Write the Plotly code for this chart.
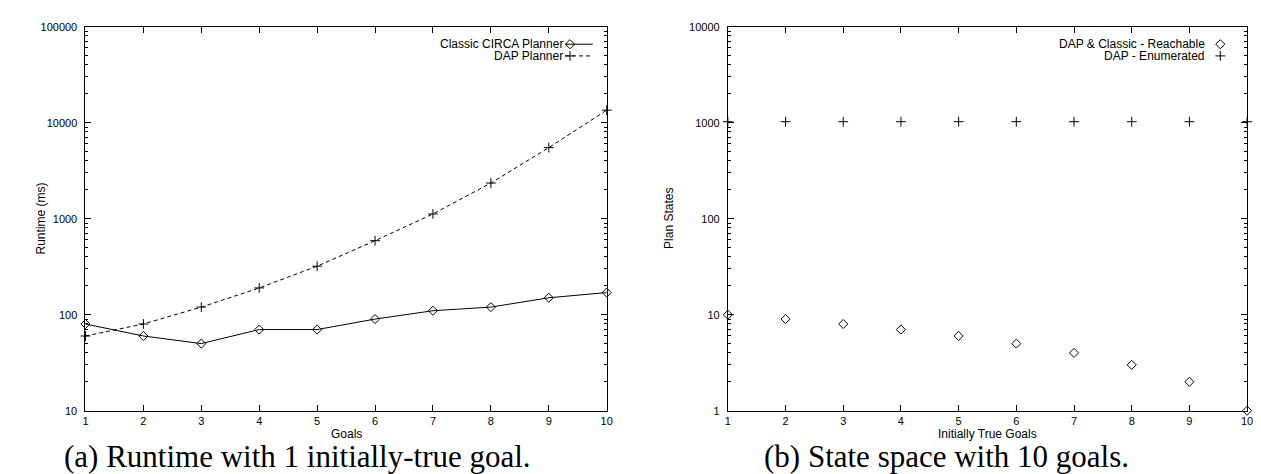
import plotly.graph_objects as go

# ---------------- data ----------------
goals = [1, 2, 3, 4, 5, 6, 7, 8, 9, 10]
classic_runtime = [80, 60, 50, 70, 70, 90, 110, 120, 150, 170]
dap_runtime = [60, 80, 120, 190, 320, 590, 1120, 2350, 5500, 13500]

true_goals = [1, 2, 3, 4, 5, 6, 7, 8, 9, 10]
reachable_states = [10, 9, 8, 7, 6, 5, 4, 3, 2, 1]
enumerated_states = [1024, 1024, 1024, 1024, 1024, 1024, 1024, 1024, 1024, 1024]

left_ytick_vals = [10, 100, 1000, 10000, 100000]
left_ytick_text = ["10", "100", "1000", "10000", "100000"]
right_ytick_vals = [1, 10, 100, 1000, 10000]
right_ytick_text = ["1", "10", "100", "1000", "10000"]
xtick_vals = [1, 2, 3, 4, 5, 6, 7, 8, 9, 10]

# ---------------- layout geometry ----------------
W, H = 1261, 474
def px(x):
    return x / W
def py(y):
    return (H - y) / H

L0, L1 = 75, 600
R0, R1 = 722, 1245
T, B = 13, 407

SANS = "Liberation Sans, Arial, Helvetica, sans-serif"
SERIF = "Liberation Serif, Times New Roman, serif"

fig = go.Figure()

# Left panel
fig.add_trace(go.Scatter(x=goals, y=classic_runtime, mode="lines+markers",
                         line=dict(color="black", width=1),
                         marker=dict(symbol="diamond-open", size=7, color="black", line=dict(width=1)),
                         cliponaxis=False, xaxis="x", yaxis="y", showlegend=False))
fig.add_trace(go.Scatter(x=goals, y=dap_runtime, mode="lines+markers",
                         line=dict(color="black", width=1, dash="4px,3px"),
                         marker=dict(symbol="cross-thin-open", size=7, color="black", line=dict(width=1, color="black")),
                         cliponaxis=False, xaxis="x", yaxis="y", showlegend=False))

# Right panel
fig.add_trace(go.Scatter(x=true_goals, y=reachable_states, mode="markers",
                         marker=dict(symbol="diamond-open", size=7, color="black", line=dict(width=1)),
                         cliponaxis=False, xaxis="x2", yaxis="y2", showlegend=False))
fig.add_trace(go.Scatter(x=true_goals, y=enumerated_states, mode="markers",
                         marker=dict(symbol="cross-thin-open", size=7, color="black", line=dict(width=1, color="black")),
                         cliponaxis=False, xaxis="x2", yaxis="y2", showlegend=False))

# Legend key samples on hidden helper axes (0..1 over each panel)
def ax_x(p, a0, a1):
    return (p - a0) / (a1 - a0)
def ax_y(p):
    return 1 - (p - T) / (B - T)

row1, row2 = 31, 43
# left keys
fig.add_trace(go.Scatter(x=[ax_x(558, L0, L1), ax_x(586, L0, L1)], y=[ax_y(row1)] * 2, mode="lines",
                         line=dict(color="black", width=1), xaxis="x3", yaxis="y3", showlegend=False, hoverinfo="skip"))
fig.add_trace(go.Scatter(x=[ax_x(563, L0, L1)], y=[ax_y(row1)], mode="markers",
                         marker=dict(symbol="diamond-open", size=7, color="black", line=dict(width=1)),
                         cliponaxis=False, xaxis="x3", yaxis="y3", showlegend=False, hoverinfo="skip"))
fig.add_trace(go.Scatter(x=[ax_x(558, L0, L1), ax_x(586, L0, L1)], y=[ax_y(row2)] * 2, mode="lines",
                         line=dict(color="black", width=1, dash="4px,3px"), xaxis="x3", yaxis="y3", showlegend=False, hoverinfo="skip"))
fig.add_trace(go.Scatter(x=[ax_x(563, L0, L1)], y=[ax_y(row2)], mode="markers",
                         marker=dict(symbol="cross-thin-open", size=7, color="black", line=dict(width=1, color="black")),
                         cliponaxis=False, xaxis="x3", yaxis="y3", showlegend=False, hoverinfo="skip"))
# right keys
fig.add_trace(go.Scatter(x=[ax_x(1218, R0, R1)], y=[ax_y(row1)], mode="markers",
                         marker=dict(symbol="diamond-open", size=7, color="black", line=dict(width=1)),
                         cliponaxis=False, xaxis="x4", yaxis="y4", showlegend=False, hoverinfo="skip"))
fig.add_trace(go.Scatter(x=[ax_x(1218, R0, R1)], y=[ax_y(row2)], mode="markers",
                         marker=dict(symbol="cross-thin-open", size=7, color="black", line=dict(width=1, color="black")),
                         cliponaxis=False, xaxis="x4", yaxis="y4", showlegend=False, hoverinfo="skip"))

minor_log = [m * 10 ** e for e in range(-1, 6) for m in range(2, 10)]

def xax(domain, anchor):
    return dict(domain=domain, anchor=anchor, range=[1, 10], tickmode="array", tickvals=xtick_vals,
                ticktext=[str(v) for v in xtick_vals], ticks="inside", ticklen=6, tickcolor="black",
                tickwidth=1, showline=True, linecolor="black", linewidth=1, mirror="allticks",
                showgrid=False, zeroline=False, ticklabelstandoff=0,
                tickfont=dict(family=SANS, size=11, color="black"))

def yax(domain, anchor, rng, vals, text):
    return dict(domain=domain, anchor=anchor, type="log", range=rng, tickmode="array", tickvals=vals,
                ticktext=text, ticks="inside", ticklen=6, tickcolor="black", tickwidth=1,
                showline=True, linecolor="black", linewidth=1, mirror="allticks",
                showgrid=False, zeroline=False, ticklabelstandoff=5,
                tickfont=dict(family=SANS, size=11, color="black"),
                minor=dict(tickmode="array", tickvals=minor_log, ticks="inside", ticklen=3,
                           tickcolor="black", tickwidth=1, showgrid=False))

ydom = [py(B), py(T)]
hidden = dict(visible=False, range=[0, 1], showgrid=False, zeroline=False, fixedrange=True)

fig.update_layout(
    width=W, height=H,
    margin=dict(l=0, r=0, t=0, b=0),
    paper_bgcolor="white", plot_bgcolor="rgba(0,0,0,0)",
    showlegend=False,
    xaxis=xax([px(L0), px(L1)], "y"),
    yaxis=yax(ydom, "x", [1, 5], left_ytick_vals, left_ytick_text),
    xaxis2=xax([px(R0), px(R1)], "y2"),
    yaxis2=yax(ydom, "x2", [0, 4], right_ytick_vals, right_ytick_text),
    xaxis3=dict(hidden, domain=[px(L0), px(L1)], anchor="y3"),
    yaxis3=dict(hidden, domain=ydom, anchor="x3"),
    xaxis4=dict(hidden, domain=[px(R0), px(R1)], anchor="y4"),
    yaxis4=dict(hidden, domain=ydom, anchor="x4"),
)

ann = []
def text(x, y, s, size=12, family=SANS, xanchor="center", angle=0):
    ann.append(dict(x=px(x), y=py(y), xref="paper", yref="paper", text=s, showarrow=False,
                    xanchor=xanchor, yanchor="middle", textangle=angle, borderpad=0,
                    font=dict(family=family, size=size, color="black")))

# legend texts
text(557, row1, "Classic CIRCA Planner", xanchor="right")
text(557, row2, "DAP Planner", xanchor="right")
text(1204, row1, "DAP &amp; Classic - Reachable", xanchor="right")
text(1204, row2, "DAP - Enumerated", xanchor="right")
# axis titles
text((L0 + L1) / 2, 431, "Goals")
text((R0 + R1) / 2, 431, "Initially True Goals")
text(30, (T + B) / 2, "Runtime (ms)", angle=-90)
text(662, (T + B) / 2, "Plan States", angle=-90)
# captions
text(52, 454, "(a) Runtime with 1 initially-true goal.", size=31, family=SERIF, xanchor="left")
text(757, 454, "(b) State space with 10 goals.", size=31, family=SERIF, xanchor="left")

fig.update_layout(annotations=ann)

fig.write_html("out.html")
